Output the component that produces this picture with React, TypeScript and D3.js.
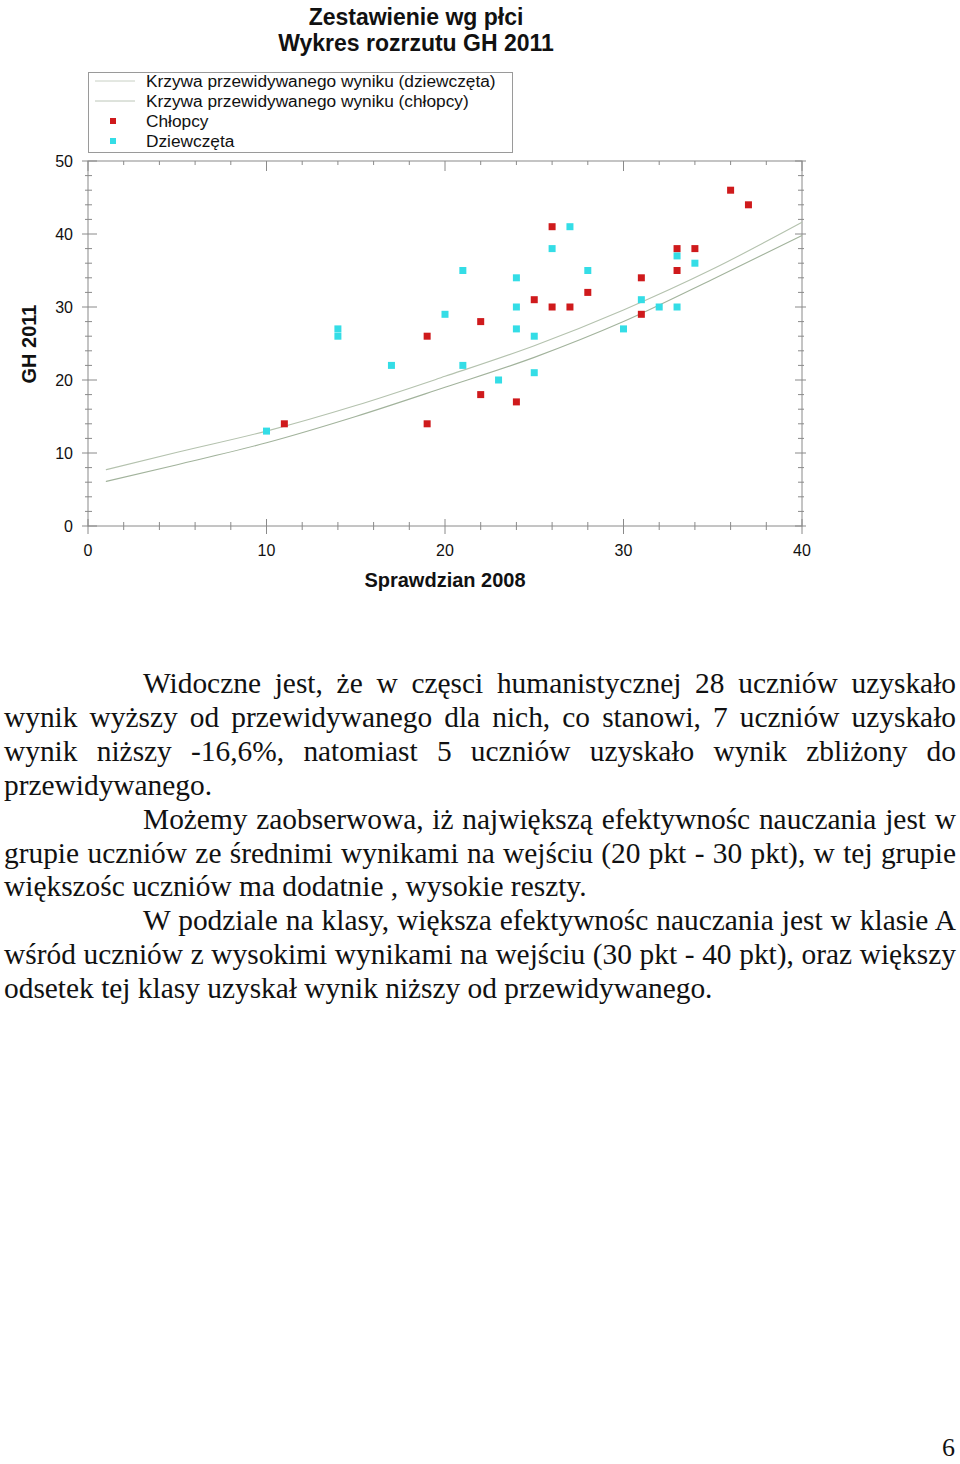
import React from "react";
import * as d3 from "d3";

// Scatter data: Sprawdzian 2008 (x) vs GH 2011 (y)
const boysX = [11, 19, 19, 22, 22, 24, 25, 26, 26, 27, 28, 31, 31, 33, 33, 34, 36, 37];
const boysY = [14, 26, 14, 28, 18, 17, 31, 41, 30, 30, 32, 34, 29, 38, 35, 38, 46, 44];

const girlsX = [10, 14, 14, 17, 20, 21, 21, 23, 24, 24, 24, 25, 25, 26, 27, 28, 30, 31, 32, 33, 33, 34];
const girlsY = [13, 27, 26, 22, 29, 35, 22, 20, 34, 30, 27, 26, 21, 38, 41, 35, 27, 31, 30, 30, 37, 36];

// predicted-result curves
const curveX = [1, 5, 10, 15, 20, 25, 30, 35, 40];
const curveGirls = [7.7, 10.1, 13.0, 16.5, 20.5, 24.7, 29.6, 35.2, 41.6];
const curveBoys = [6.1, 8.4, 11.4, 15.0, 19.0, 23.1, 28.0, 33.8, 39.8];

const legendLabels = [
  "Krzywa przewidywanego wyniku (dziewczęta)",
  "Krzywa przewidywanego wyniku (chłopcy)",
  "Chłopcy",
  "Dziewczęta",
];

const paragraphs = [
  "Widoczne jest, że w częsci humanistycznej 28 uczniów uzyskało wynik wyższy od przewidywanego dla nich, co stanowi, 7 uczniów uzyskało wynik niższy -16,6%, natomiast 5 uczniów uzyskało wynik zbliżony do przewidywanego.",
  "Możemy zaobserwowa, iż największą efektywnośc nauczania jest w grupie uczniów ze średnimi wynikami na wejściu (20 pkt - 30 pkt), w tej grupie większośc uczniów ma dodatnie , wysokie reszty.",
  "W podziale na klasy, większa efektywnośc nauczania jest w klasie A wśród uczniów z wysokimi wynikami na wejściu (30 pkt - 40 pkt), oraz większy odsetek tej klasy uzyskał wynik niższy od przewidywanego.",
];

const RED = "#cf1a1c";
const CYAN = "#34dde6";
const AXIS = "#8a8a8a";
const SANS = "'Liberation Sans', Arial, sans-serif";

const ScatterChart = () => {
  const x = d3.scaleLinear().domain([0, 40]).range([88, 802]);
  const y = d3.scaleLinear().domain([0, 50]).range([526, 161]);

  const line = d3
    .line<[number, number]>()
    .x((d) => x(d[0]))
    .y((d) => y(d[1]))
    .curve(d3.curveMonotoneX);

  const girlsLine = curveX.map((v, i) => [v, curveGirls[i]] as [number, number]);
  const boysLine = curveX.map((v, i) => [v, curveBoys[i]] as [number, number]);

  const xTicks = d3.range(0, 41, 2);
  const yTicks = d3.range(0, 51, 2);
  const sq = 7;

  return (
    <svg width={960} height={620} style={{ position: "absolute", left: 0, top: 0 }}>
      {/* titles */}
      <text x={416} y={25} textAnchor="middle" fontFamily={SANS} fontWeight="bold" fontSize={23} fill="#111">
        Zestawienie wg płci
      </text>
      <text x={416} y={51} textAnchor="middle" fontFamily={SANS} fontWeight="bold" fontSize={23} fill="#111">
        Wykres rozrzutu GH 2011
      </text>

      {/* legend */}
      <rect x={88.5} y={72.5} width={424} height={80} fill="white" stroke="#9a9a9a" />
      {legendLabels.map((lab, i) => (
        <text key={lab} x={146} y={87 + i * 20} fontFamily={SANS} fontSize={17.3} fill="#111">
          {lab}
        </text>
      ))}
      <line x1={95} x2={135} y1={81} y2={81} stroke="#c8d0c4" strokeWidth={1} />
      <line x1={95} x2={135} y1={101} y2={101} stroke="#bcc6b8" strokeWidth={1} />
      <rect x={110} y={118} width={6} height={6} fill={RED} />
      <rect x={110} y={138} width={6} height={6} fill={CYAN} />

      {/* frame */}
      <rect x={x(0)} y={y(50)} width={x(40) - x(0)} height={y(0) - y(50)} fill="none" stroke={AXIS} />

      {/* x ticks bottom & top */}
      {xTicks.map((t) => {
        const major = t % 10 === 0;
        return (
          <g key={"x" + t} stroke={AXIS}>
            <line x1={x(t)} x2={x(t)} y1={major ? 519 : 522} y2={major ? 534 : 530} />
            <line x1={x(t)} x2={x(t)} y1={161} y2={major ? 171 : 165} />
          </g>
        );
      })}
      {d3.range(0, 41, 10).map((t) => (
        <text key={"xl" + t} x={x(t)} y={556} textAnchor="middle" fontFamily={SANS} fontSize={16} fill="#111">
          {t}
        </text>
      ))}

      {/* y ticks left & right */}
      {yTicks.map((t) => {
        const major = t % 10 === 0;
        return (
          <g key={"y" + t} stroke={AXIS}>
            <line x1={major ? 82 : 85} x2={major ? 97 : 92} y1={y(t)} y2={y(t)} />
            <line x1={major ? 795 : 798} x2={major ? 806 : 804} y1={y(t)} y2={y(t)} />
          </g>
        );
      })}
      {d3.range(0, 51, 10).map((t) => (
        <text key={"yl" + t} x={73} y={y(t) + 6} textAnchor="end" fontFamily={SANS} fontSize={16} fill="#111">
          {t}
        </text>
      ))}

      {/* axis titles */}
      <text x={445} y={587} textAnchor="middle" fontFamily={SANS} fontWeight="bold" fontSize={20} fill="#111">
        Sprawdzian 2008
      </text>
      <text
        transform={`translate(36,344) rotate(-90)`}
        textAnchor="middle"
        fontFamily={SANS}
        fontWeight="bold"
        fontSize={20}
        fill="#111"
      >
        GH 2011
      </text>

      {/* predicted curves */}
      <path d={line(girlsLine) || ""} fill="none" stroke="#b4c2ae" strokeWidth={1.1} />
      <path d={line(boysLine) || ""} fill="none" stroke="#a2b39c" strokeWidth={1.1} />

      {/* points */}
      {girlsX.map((v, i) => (
        <rect key={"g" + i} x={x(v) - sq / 2} y={y(girlsY[i]) - sq / 2} width={sq} height={sq} fill={CYAN} />
      ))}
      {boysX.map((v, i) => (
        <rect key={"b" + i} x={x(v) - sq / 2} y={y(boysY[i]) - sq / 2} width={sq} height={sq} fill={RED} />
      ))}
    </svg>
  );
};

export default function App() {
  return (
    <div style={{ position: "absolute", left: 0, top: 0, width: 960, height: 1464, background: "white", overflow: "hidden" }}>
      <ScatterChart />
      <div
        style={{
          position: "absolute",
          left: 4,
          top: 667,
          width: 952,
          fontFamily: "'Liberation Serif', 'Times New Roman', serif",
          fontSize: 29.4,
          lineHeight: "33.9px",
          textAlign: "justify",
          color: "#111",
        }}
      >
        {paragraphs.map((p, i) => (
          <p key={i} style={{ margin: 0, textIndent: 139 }}>
            {p}
          </p>
        ))}
      </div>
      <div
        style={{
          position: "absolute",
          right: 5,
          top: 1435,
          fontFamily: "'Liberation Serif', 'Times New Roman', serif",
          fontSize: 26,
          lineHeight: "26px",
          color: "#111",
        }}
      >
        6
      </div>
    </div>
  );
}
